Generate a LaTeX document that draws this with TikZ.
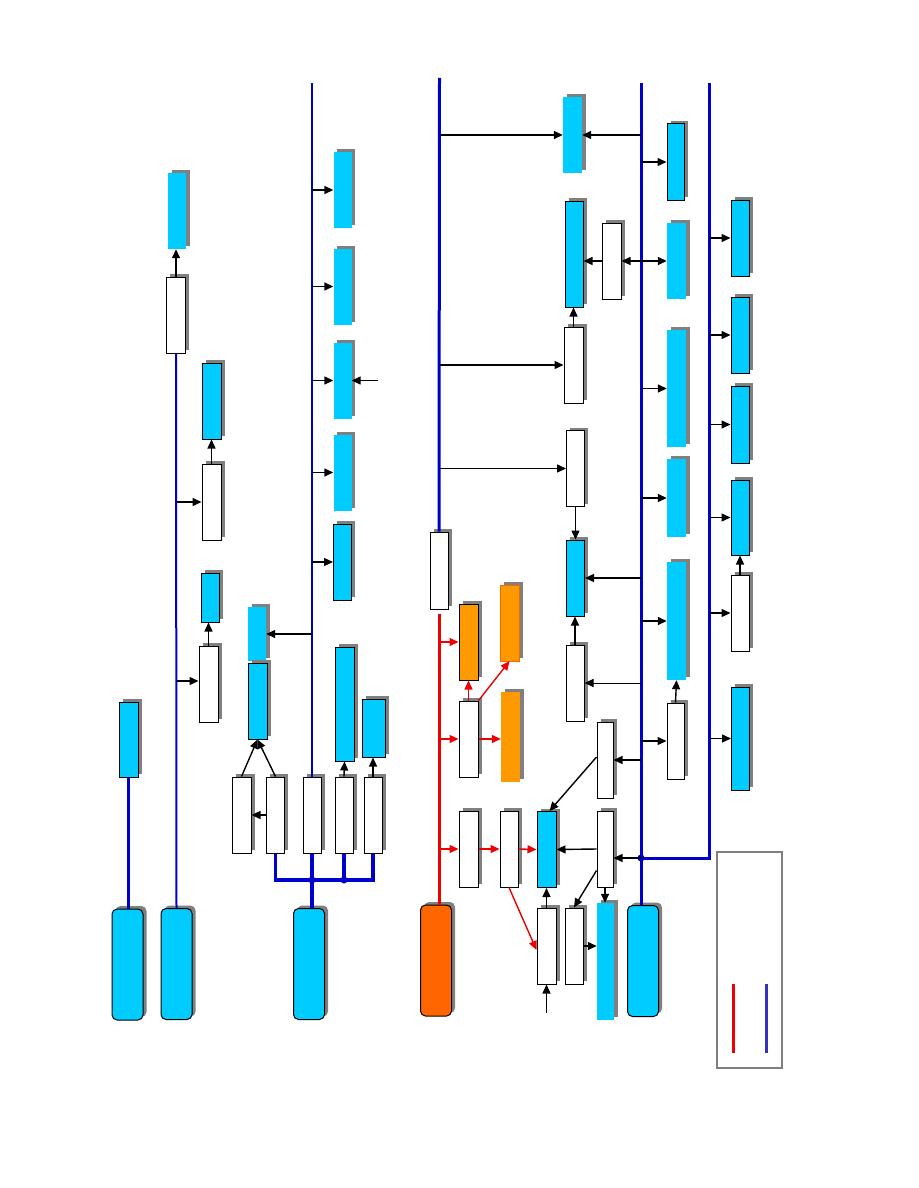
\documentclass[tikz,border=0pt]{standalone}
\usepackage{tikz}
\usetikzlibrary{arrows.meta, shadows, positioning}
\definecolor{boxcyan}{RGB}{0,204,255}
\definecolor{busblue}{RGB}{0,0,204}
\definecolor{busred}{RGB}{238,0,0}
\definecolor{boxorange}{RGB}{255,153,0}
\definecolor{rootorange}{RGB}{255,102,0}
\definecolor{keyblue}{RGB}{51,51,187}

\begin{document}
\begin{tikzpicture}[x=1pt, y=-1pt,
    base/.style={rectangle, inner sep=0pt, minimum width=19pt, minimum height=76pt,
        drop shadow={shadow xshift=3.5pt, shadow yshift=3pt, fill=gray, opacity=1}},
    wbox/.style={base, draw, fill=white, line width=1pt},
    cbox/.style={base, draw, fill=boxcyan, line width=1pt},
    cflat/.style={base, fill=boxcyan},
    obox/.style={base, fill=boxorange},
    rootbox/.style={base, draw, rounded corners=5pt, minimum width=31pt, minimum height=111pt, line width=1pt},
    arrow/.style={-{Triangle[length=9pt, width=8pt]}, line width=1.4pt},
    redarrow/.style={arrow, busred},
    bus/.style={busblue, line width=3pt},
    redbus/.style={busred, line width=3pt},
    dot/.style={circle, fill=busblue, inner sep=0pt, minimum size=7pt}
]
    \useasboundingbox[fill=white] (0,0) rectangle (918,1188);

    % Roots
    \node[rootbox, fill=boxcyan] (ant) at (127.5,964.5) {};
    \node[rootbox, fill=boxcyan] (pwr) at (176.5,964) {};
    \node[rootbox, fill=boxcyan] (bb) at (309,964) {};
    \node[rootbox, fill=rootorange] (ro) at (436,960.5) {};
    \node[rootbox, fill=boxcyan] (t1) at (643,961) {};

    % Left column
    \node[cbox, minimum height=75pt] (antbox) at (128.5,739.5) {};
    \draw[bus] (antbox.south) -- (antbox.south |- ant.north);

    \node[cflat, minimum width=18pt] (f1) at (177,211) {};
    \node[wbox] (w1) at (176,315) {};
    \node[cbox] (f2) at (211.5,401) {};
    \node[wbox] (w3) at (211.5,502) {};
    \node[cbox, minimum width=18pt, minimum height=49pt] (e1) at (210.5,597.5) {};
    \node[wbox] (w2) at (208.5,684) {};

    \draw[busblue, line width=2pt] (pwr.north) -- (w1.south);
    \draw[arrow] (w1.north) -- (w1.north |- f1.south);
    \draw[arrow] (w3.north) -- (f2.south);
    \draw[arrow] (w2.north) -- (w2.north |- e1.south);
    \draw[arrow] (w3.west -| pwr.north) -- (w3.west);
    \draw[arrow] ([yshift=3pt]w2.west -| pwr.north) -- ([yshift=3pt]w2.west);

    % Control block
    \coordinate (ctop) at (312,83);
    \coordinate (jn) at (312,880);
    \node[cflat, minimum width=18pt, minimum height=54pt] (c2) at (257,634) {};
    \node[cbox] (c1) at (257.5,701) {};
    \node[wbox] (b1) at (241.5,815) {};
    \node[wbox, minimum width=18pt] (b2) at (275.5,815) {};
    \node[wbox, minimum width=18pt] (b3) at (312,815) {};
    \node[wbox, minimum width=18pt] (b4) at (344,815) {};
    \node[wbox, minimum width=18pt] (b5) at (373,815) {};
    \node[cbox, minimum height=114pt] (d1) at (344.5,704) {};
    \node[cbox, minimum width=23pt, minimum height=58pt] (d2) at (373.5,728) {};

    \node[cflat, minimum width=18pt] (g1) at (342.5,190) {};
    \node[cflat, minimum width=18pt] (g2) at (342.5,286.5) {};
    \node[cflat, minimum width=18pt] (g3) at (342.5,380.5) {};
    \node[cflat, minimum width=18pt] (g4) at (342.5,472.5) {};
    \node[cbox, minimum width=18pt] (g5) at (342.5,562) {};
    \coordinate (g3in) at (378,380.5);

    \draw[bus, line width=2.5pt] (ctop) -- (b3.north);
    \draw[bus, line width=3.5pt] (b2.south) -- (b2.south |- jn) -- (b5.south |- jn) -- (b5.south);
    \draw[bus, line width=3.5pt] (b3.south) -- (jn) -- (jn |- bb.north);
    \draw[bus, line width=3.5pt] (b4.south) -- (b4.south |- jn);
    \node[dot] at (jn) {};
    \node[dot] at (b4.south |- jn) {};

    \foreach \g in {g1,g2,g3,g4,g5}
        \draw[arrow] (\g.west -| ctop) -- (\g.west);
    \draw[arrow] (g3in) -- (g3.east);
    \draw[arrow] (c2.east -| ctop) -- (c2.east);
    \draw[arrow] (b2.west) -- (b1.east);
    \draw[arrow] (b1.north) -- (c1.south);
    \draw[arrow] (b2.north) -- (c1.south);
    \draw[arrow] (b4.north) -- (d1.south);
    \draw[arrow] (b5.north) -- (b5.north |- d2.south);

    % Middle column
    \coordinate (mtop) at (439.5,78);
    \node[wbox, minimum width=18pt, minimum height=77pt] (m0) at (439,570.5) {};
    \node[cflat] (h1) at (572.5,135) {};
    \node[cbox, minimum width=18pt, minimum height=106pt] (k1) at (574,254) {};
    \node[wbox] (j1) at (611.5,261) {};
    \node[wbox] (l1) at (573.5,365) {};
    \node[wbox, minimum width=18pt] (v1) at (575.5,468.5) {};
    \node[cbox, minimum width=18pt] (k2) at (575.5,578) {};
    \node[wbox, minimum width=18pt] (u1) at (575,683) {};

    \draw[bus] (mtop) -- (m0.north);
    \draw[arrow] (h1.west -| mtop) -- (h1.west);
    \draw[arrow] (l1.west -| mtop) -- (l1.west);
    \draw[arrow] (v1.west -| mtop) -- (v1.west);
    \draw[arrow] (l1.north) -- (l1.north |- k1.south);
    \draw[arrow] (j1.west) -- (j1.west -| k1.east);
    \draw[arrow] (v1.south) -- (v1.south |- k2.north);
    \draw[arrow] (u1.north) -- (u1.north |- k2.south);

    % Right columns
    \coordinate (rtop) at (641,83);
    \coordinate (qtop) at (709,83);
    \coordinate (qdot) at (641,858);
    \node[cbox, minimum width=17pt] (i1) at (675.5,162) {};
    \node[cflat] (i2) at (676.5,261) {};
    \node[cflat, minimum height=117pt] (i3) at (676.5,388.5) {};
    \node[cflat, minimum height=78pt] (i4) at (676.5,498) {};
    \node[cflat, minimum height=118pt] (i5) at (676.5,621) {};
    \node[wbox, minimum width=17pt] (m1) at (675.5,741) {};

    \node[cbox, minimum width=18pt] (z1) at (740,238) {};
    \node[cbox, minimum width=18pt] (z2) at (740,335) {};
    \node[cbox, minimum width=18pt, minimum height=77pt] (z3) at (740,424.5) {};
    \node[cbox, minimum width=18pt, minimum height=75pt] (z4) at (740,517.5) {};
    \node[wbox, minimum width=18pt] (n1) at (740,613) {};
    \node[cbox, minimum width=18pt, minimum height=103pt] (z5) at (740.5,738.5) {};

    \draw[bus] (rtop) -- (rtop |- t1.north);
    \draw[bus] (qtop) -- (qtop |- qdot) -- (qdot);
    \node[dot] at (qdot) {};

    \draw[arrow] (h1.east -| rtop) -- (h1.east);
    \draw[arrow] (j1.east -| rtop) -- (j1.east);
    \draw[arrow] (k2.east -| rtop) -- (k2.east);
    \draw[arrow, line width=0.8pt] (u1.east -| rtop) -- (u1.east);
    \foreach \i in {i1,i2,i3,i4,i5,m1}
        \draw[arrow] (\i.west -| rtop) -- (\i.west);
    \draw[arrow] (m1.north) -- (i5.south);
    \foreach \z in {z1,z2,z3,z4,n1,z5}
        \draw[arrow] (\z.west -| qtop) -- (\z.west);
    \draw[arrow] (n1.north) -- (z4.south);

    % Lower middle
    \coordinate (redtop) at (439.5,614);
    \node[obox, draw, line width=1pt] (o1) at (468.5,642) {};
    \node[obox, draw=rootorange] (o2) at (509.5,623) {};
    \node[obox, minimum height=90pt] (o3) at (510.5,737) {};
    \node[wbox] (x1) at (468.5,739) {};
    \node[wbox] (y1) at (468.5,849) {};
    \node[wbox, minimum width=18pt] (y2) at (509,849) {};
    \node[cbox] (q1) at (546.5,849.5) {};
    \node[wbox] (r1) at (546.5,946) {};
    \node[wbox, minimum width=18pt] (r2) at (574,946) {};
    \node[wbox, minimum width=16pt] (p1) at (605,760) {};
    \node[wbox, minimum width=16pt] (p2) at (605,849) {};
    \node[cflat, minimum width=17pt, minimum height=117pt] (s1) at (605.5,961.5) {};
    \coordinate (rin) at (546.5,1013);

    \draw[redbus] (redtop) -- (redtop |- ro.north);
    \draw[redarrow] (o1.west -| redtop) -- (o1.west);
    \draw[redarrow] (x1.west -| redtop) -- (x1.west);
    \draw[redarrow] (y1.west -| redtop) -- (y1.west);
    \draw[redarrow] (x1.north) -- (o1.south);
    \draw[redarrow] (x1.north east) -- (o2.south);
    \draw[redarrow] (x1.east) -- (x1.east -| o3.west);
    \draw[redarrow] (y1.east) -- (y2.west);
    \draw[redarrow] (y2.east) -- (q1.west);
    \draw[redarrow] (y2.south) -- ([yshift=-4pt]r1.west);

    \draw[arrow] (p1.east -| rtop) -- (p1.east);
    \draw[arrow] (qdot) -- (qdot -| p2.east);
    \draw[arrow] ([yshift=3pt]p1.west) -- ([xshift=-7pt]q1.north east);
    \draw[arrow] (p2.west) -- (q1.east);
    \draw[arrow] ([yshift=17pt]p2.south west) -- (r2.north);
    \draw[arrow] (p2.south) -- (p2.south |- s1.north);
    \draw[arrow] (r2.east) -- (r2.east -| s1.west);
    \draw[arrow] (r1.north) -- (q1.south);
    \draw[arrow] (rin) -- (r1.south);

    % Key
    \node[draw=gray, line width=2pt, minimum width=65pt, minimum height=216pt, inner sep=0pt] (key) at (749.5,960) {};
    \draw[busred, line width=3pt] ([xshift=17pt, yshift=85pt]key.south west) -- ([xshift=17pt, yshift=16pt]key.south west);
    \draw[keyblue, line width=3pt] ([xshift=50pt, yshift=85pt]key.south west) -- ([xshift=50pt, yshift=16pt]key.south west);
\end{tikzpicture}
\end{document}
